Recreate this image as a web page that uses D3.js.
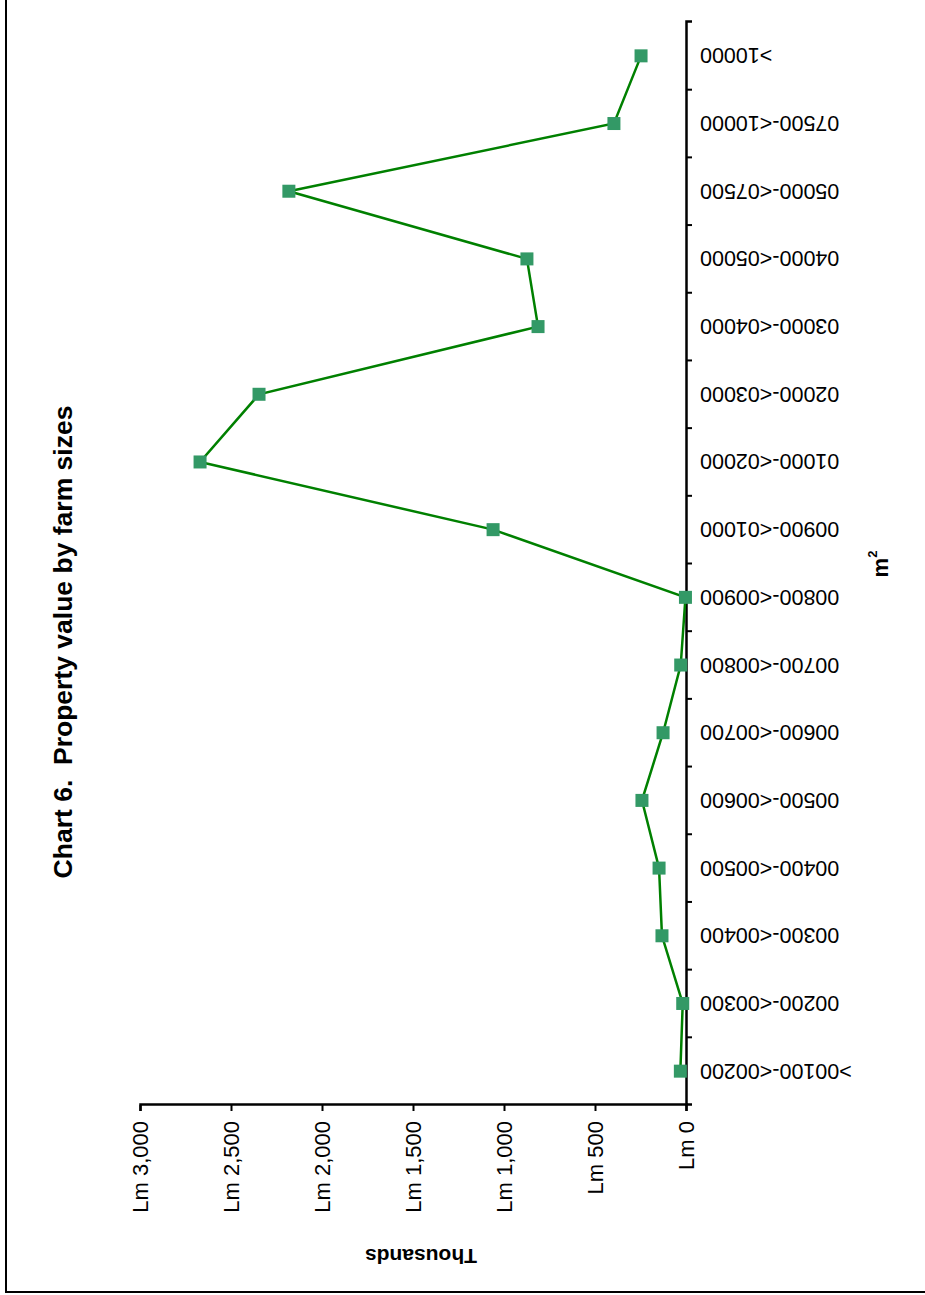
<!DOCTYPE html>
<html>
<head>
<meta charset="utf-8">
<script src="https://cdn.jsdelivr.net/npm/d3@7"></script>
<style>
  html, body { margin: 0; padding: 0; background: #fff; }
  svg { display: block; font-family: Arial, "Liberation Sans", sans-serif; }
</style>
</head>
<body>
<script>
const categories = [">00100-<00200", "00200-<00300", "00300-<00400", "00400-<00500",
  "00500-<00600", "00600-<00700", "00700-<00800", "00800-<00900", "00900-<01000",
  "01000-<02000", "02000-<03000", "03000-<04000", "04000-<05000", "05000-<07500",
  "07500-<10000", ">10000"];
const values = [31, 18, 132, 148, 242, 126, 29, 3, 1060, 2670, 2346, 813, 874, 2182, 396, 247];
const valueTicks = [0, 500, 1000, 1500, 2000, 2500, 3000];
const title = "Chart 6.\u00A0\u00A0Property value by farm sizes";
const valueTitle = "Thousands";

const W = 925, H = 1295;
const svg = d3.select("body").append("svg").attr("width", W).attr("height", H);

// page border
svg.append("rect").attr("x", 6).attr("y", -10).attr("width", 940).attr("height", 1302)
  .attr("fill", "none").attr("stroke", "#000").attr("stroke-width", 2);

// chart drawn in landscape frame, rotated onto the page
const g = svg.append("g").attr("transform", `translate(0,${H}) rotate(-90)`);

const x = d3.scaleBand().domain(categories).range([190, 1273]);
const y = d3.scaleLinear().domain([0, 3000]).range([686, 140]);

// category axis
const xAxis = g.append("g").attr("transform", "translate(0,686)")
  .call(d3.axisBottom(x).tickSizeInner(0).tickSizeOuter(6));
xAxis.selectAll(".tick text")
  .attr("x", -14).attr("y", 0).attr("dy", "0.35em")
  .attr("transform", "rotate(-90)")
  .style("text-anchor", "end")
  .style("font-size", "21.5px").style("font-family", "Arial, 'Liberation Sans', sans-serif");
// boundary ticks between categories
xAxis.selectAll(".sep").data(categories.slice(1)).enter().append("line")
  .attr("class", "sep")
  .attr("x1", d => x(d)).attr("x2", d => x(d))
  .attr("y1", 0).attr("y2", 6).attr("stroke", "#000").attr("stroke-width", 2);
xAxis.select(".domain").attr("stroke-width", 2.5);

// value axis
const yAxis = g.append("g").attr("transform", "translate(190,0)")
  .call(d3.axisLeft(y).tickValues(valueTicks).tickSize(6).tickPadding(10)
    .tickFormat(d => "Lm " + d3.format(",")(d)));
yAxis.selectAll(".tick text").style("font-size", "22px")
  .style("font-family", "Arial, 'Liberation Sans', sans-serif");
yAxis.selectAll(".tick line").attr("stroke-width", 2);
yAxis.select(".domain").attr("stroke-width", 2.5);

// line
const line = d3.line().x((d, i) => x(categories[i]) + x.bandwidth() / 2).y(d => y(d));
g.append("path").datum(values).attr("d", line)
  .attr("fill", "none").attr("stroke", "#008000").attr("stroke-width", 2.5);

// markers
const ms = 13;
g.selectAll(".mk").data(values).enter().append("rect").attr("class", "mk")
  .attr("x", (d, i) => x(categories[i]) + x.bandwidth() / 2 - ms / 2)
  .attr("y", d => y(d) - ms / 2)
  .attr("width", ms).attr("height", ms)
  .attr("fill", "#339966");

// title
g.append("text").attr("x", 653).attr("y", 72).attr("text-anchor", "middle")
  .style("font-size", "26.5px").style("font-weight", "bold").text(title);

// value axis title
g.append("text").attr("transform", "translate(46,421) rotate(-90)")
  .attr("text-anchor", "middle").style("font-size", "21px").style("font-weight", "bold")
  .text(valueTitle);

// category axis title m²
const mt = g.append("text").attr("x", 731).attr("y", 888).attr("text-anchor", "middle")
  .style("font-size", "22px").style("font-weight", "bold");
mt.append("tspan").text("m");
mt.append("tspan").attr("dy", -11).style("font-size", "13px").text("2");
</script>
</body>
</html>
